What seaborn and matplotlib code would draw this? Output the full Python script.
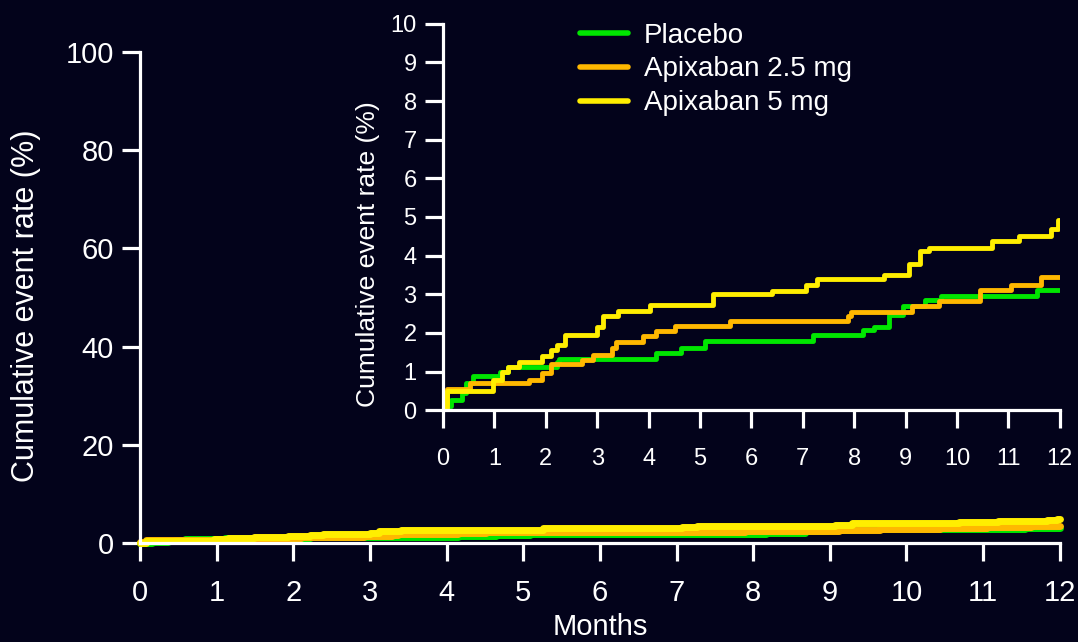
import numpy as np
import pandas as pd
import matplotlib
matplotlib.use("Agg")
import matplotlib.pyplot as plt
import seaborn as sns

# ---------------- data ----------------
groups = ["Placebo", "Apixaban 2.5 mg", "Apixaban 5 mg"]

placebo_months = [0.0, 0.03, 0.16, 0.37, 0.45, 0.58, 1.11, 1.27, 2.22, 2.26, 4.15, 4.64,
                  5.09, 7.19, 8.17, 8.38, 8.67, 8.96, 9.37, 9.70, 11.55, 12.0]
placebo_rate = [0.0, 0.10, 0.27, 0.45, 0.70, 0.88, 1.00, 1.13, 1.26, 1.33, 1.49, 1.62,
                1.78, 1.95, 2.08, 2.16, 2.46, 2.70, 2.85, 2.96, 3.10, 3.10]

apx25_months = [0.0, 0.08, 0.53, 1.68, 1.93, 2.10, 2.71, 2.92, 3.29, 3.37, 3.90, 4.15,
                4.52, 5.59, 7.89, 7.93, 9.12, 9.65, 10.44, 11.05, 11.63, 12.0]
apx25_rate = [0.20, 0.55, 0.70, 0.79, 0.96, 1.19, 1.30, 1.43, 1.60, 1.76, 1.93, 2.05,
              2.19, 2.31, 2.44, 2.55, 2.70, 2.83, 3.10, 3.24, 3.45, 3.45]

apx5_months = [0.0, 0.08, 0.97, 1.15, 1.26, 1.48, 1.93, 2.10, 2.22, 2.38, 3.00, 3.12,
               3.41, 4.03, 5.26, 6.41, 7.07, 7.27, 8.59, 9.07, 9.29, 9.45, 10.68, 11.20,
               11.83, 11.97, 12.0]
apx5_rate = [0.06, 0.49, 0.79, 1.00, 1.13, 1.26, 1.41, 1.55, 1.69, 1.95, 2.16, 2.44,
             2.58, 2.72, 3.00, 3.09, 3.24, 3.40, 3.51, 3.79, 4.11, 4.20, 4.37, 4.52,
             4.69, 4.93, 4.93]

main_yticks = [0, 20, 40, 60, 80, 100]
inset_yticks = list(range(0, 11))
month_ticks = list(range(0, 13))

# ---------------- styling ----------------
BG = "#03031b"
FG = "white"
palette = {"Placebo": "#00e600", "Apixaban 2.5 mg": "#ffb800", "Apixaban 5 mg": "#ffee00"}

sns.set_theme(style="ticks")
plt.rcParams["font.family"] = ["Liberation Sans", "DejaVu Sans"]

df = pd.concat([
    pd.DataFrame({"month": placebo_months, "rate": placebo_rate, "group": groups[0]}),
    pd.DataFrame({"month": apx25_months, "rate": apx25_rate, "group": groups[1]}),
    pd.DataFrame({"month": apx5_months, "rate": apx5_rate, "group": groups[2]}),
], ignore_index=True)

fig = plt.figure(figsize=(10.78, 6.42), dpi=100, facecolor=BG)

def style_axes(ax, fs, ticklen, xpad, ypad):
    ax.set_facecolor(BG)
    for s in ["top", "right"]:
        ax.spines[s].set_visible(False)
    for s in ["left", "bottom"]:
        ax.spines[s].set_color(FG)
        ax.spines[s].set_linewidth(2.3)
    ax.tick_params(colors=FG, labelcolor=FG, labelsize=fs, direction="out",
                   length=ticklen, width=2.3)
    ax.tick_params(axis="x", pad=xpad)
    ax.tick_params(axis="y", pad=ypad)

# main axes
ax = fig.add_axes([0.130, 0.154, 0.853, 0.765])
sns.lineplot(data=df, x="month", y="rate", hue="group", hue_order=groups,
             palette=palette, estimator=None, drawstyle="steps-post",
             linewidth=5, legend=False, ax=ax)
ax.set_xlim(0, 12)
ax.set_ylim(0, 100)
ax.set_xticks(month_ticks)
ax.set_yticks(main_yticks)
style_axes(ax, 21, 13, 13, 6)
ax.set_xlabel("Months", color=FG, fontsize=21)
ax.set_ylabel("Cumulative event rate (%)", color=FG, fontsize=22)
ax.xaxis.set_label_coords(0.5, -0.143)
ax.yaxis.set_label_coords(-0.108, 0.483)
for ln in ax.lines:
    ln.set_clip_on(False)

# inset axes
axi = fig.add_axes([0.411, 0.361, 0.572, 0.602])
sns.lineplot(data=df, x="month", y="rate", hue="group", hue_order=groups,
             palette=palette, estimator=None, drawstyle="steps-post",
             linewidth=3.5, legend=True, ax=axi)
axi.set_xlim(0, 12)
axi.set_ylim(0, 10)
axi.set_xticks(month_ticks)
axi.set_yticks(inset_yticks)
style_axes(axi, 17, 13, 14, 6)
axi.set_xlabel("")
axi.set_ylabel("Cumulative event rate (%)", color=FG, fontsize=19)
axi.yaxis.set_label_coords(-0.102, 0.404)

leg = axi.legend(loc="upper left", bbox_to_anchor=(0.528, 0.982),
                 bbox_transform=fig.transFigure, frameon=False, fontsize=20,
                 handlelength=1.7, handletextpad=0.6, labelspacing=0.28,
                 borderaxespad=0.0)
for t in leg.get_texts():
    t.set_color(FG)
for h in leg.get_lines():
    h.set_linewidth(4)

fig.savefig("out.png", dpi=100, facecolor=BG)
